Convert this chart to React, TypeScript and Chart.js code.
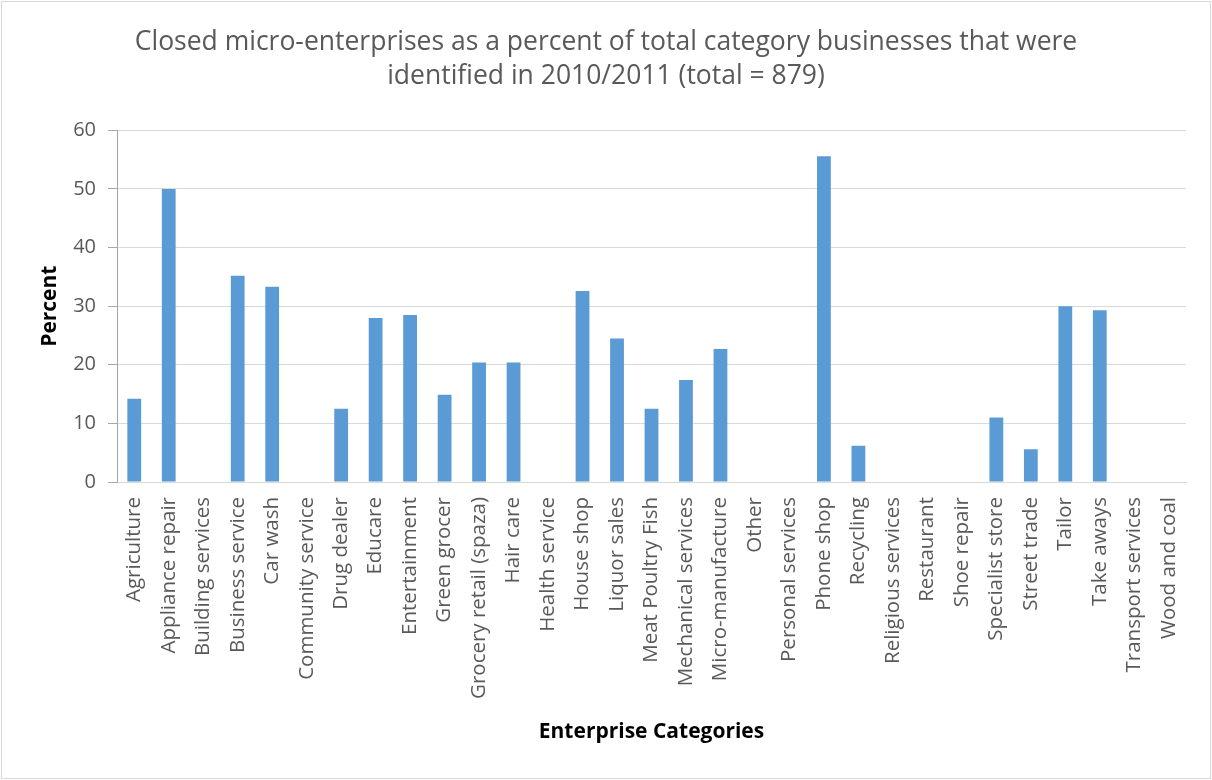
import React, { useEffect, useRef } from "react";
import { Chart, registerables } from "chart.js";

Chart.register(...registerables);

const titleLines = [
  "Closed micro-enterprises as a percent of total category businesses that were",
  "identified in 2010/2011 (total = 879)",
];

const categories = [
  "Agriculture",
  "Appliance repair",
  "Building services",
  "Business service",
  "Car wash",
  "Community service",
  "Drug dealer",
  "Educare",
  "Entertainment",
  "Green grocer",
  "Grocery retail (spaza)",
  "Hair care",
  "Health service",
  "House shop",
  "Liquor sales",
  "Meat Poultry Fish",
  "Mechanical services",
  "Micro-manufacture",
  "Other",
  "Personal services",
  "Phone shop",
  "Recycling",
  "Religious services",
  "Restaurant",
  "Shoe repair",
  "Specialist store",
  "Street trade",
  "Tailor",
  "Take aways",
  "Transport services",
  "Wood and coal",
];

const percentValues = [
  14.2, 50, 0, 35.2, 33.3, 0, 12.5, 28.0, 28.5, 14.9, 20.4, 20.4, 0, 32.6, 24.5,
  12.5, 17.4, 22.7, 0, 0, 55.6, 6.2, 0, 0, 0, 11.0, 5.6, 30.0, 29.3, 0, 0,
];

const yTicks = { min: 0, max: 60, step: 10 };

const FONT = "'Open Sans', sans-serif";

const frame = {
  id: "frame",
  beforeDraw(chart: any) {
    const ctx = chart.ctx;
    ctx.save();
    ctx.fillStyle = "#ffffff";
    ctx.fillRect(0, 0, chart.width, chart.height);
    ctx.strokeStyle = "#d9d9d9";
    ctx.lineWidth = 1;
    ctx.strokeRect(1.5, 1.5, chart.width - 3, chart.height - 3);
    ctx.restore();
  },
};

export default function App() {
  const ref = useRef<HTMLCanvasElement | null>(null);
  useEffect(() => {
    if (!ref.current) return;
    const chart = new Chart(ref.current, {
      type: "bar",
      data: {
        labels: categories,
        datasets: [
          {
            data: percentValues,
            backgroundColor: "#5b9bd5",
            barPercentage: 0.4,
            categoryPercentage: 1,
            yAxisID: "y",
          },
        ],
      },
      plugins: [frame],
      options: {
        animation: false,
        responsive: false,
        maintainAspectRatio: false,
        layout: { padding: { left: 0, right: 0, top: 0, bottom: 0 } },
        plugins: {
          legend: { display: false },
          tooltip: { enabled: false },
          title: {
            display: true,
            text: titleLines,
            color: "#595959",
            font: { family: FONT, size: 26.5, weight: "normal", lineHeight: 1.29 },
            padding: { top: 25, bottom: 37 },
          },
        },
        scales: {
          x: {
            offset: true,
            grid: { display: false, drawTicks: false },
            border: { display: true, color: "#d9d9d9" },
            ticks: {
              autoSkip: false,
              maxRotation: 90,
              minRotation: 90,
              padding: 15,
              color: "#595959",
              font: { family: FONT, size: 20.5 },
            },
            title: {
              display: true,
              text: "Enterprise Categories",
              color: "#000000",
              font: { family: FONT, size: 21, weight: "bold", lineHeight: 1.2 },
              padding: { top: 0, bottom: 35 },
            },
            afterFit(scale: any) {
              scale.height = 298;
            },
          },
          y: {
            min: yTicks.min,
            max: yTicks.max,
            ticks: {
              stepSize: yTicks.step,
              padding: 12,
              color: "#595959",
              font: { family: FONT, size: 20 },
            },
            grid: {
              color: "#d9d9d9",
              tickColor: "#a6a6a6",
              tickLength: 9,
              drawTicks: true,
            },
            border: { display: true, color: "#a6a6a6" },
            title: {
              display: true,
              text: "Percent",
              color: "#000000",
              font: { family: FONT, size: 21, weight: "bold", lineHeight: 1.2 },
              padding: { top: 37, bottom: 0 },
            },
            afterFit(scale: any) {
              scale.width = 117;
            },
          },
          spacer: {
            type: "linear",
            position: "right",
            display: true,
            min: yTicks.min,
            max: yTicks.max,
            grid: { display: false, drawTicks: false },
            border: { display: false },
            ticks: { display: false },
            afterFit(scale: any) {
              scale.width = 26;
            },
          },
        },
      },
    });
    return () => chart.destroy();
  }, []);
  return (
    <div style={{ position: "absolute", left: 0, top: 0, width: 1212, height: 780 }}>
      <canvas ref={ref} width={1212} height={780} style={{ width: 1212, height: 780 }} />
    </div>
  );
}
